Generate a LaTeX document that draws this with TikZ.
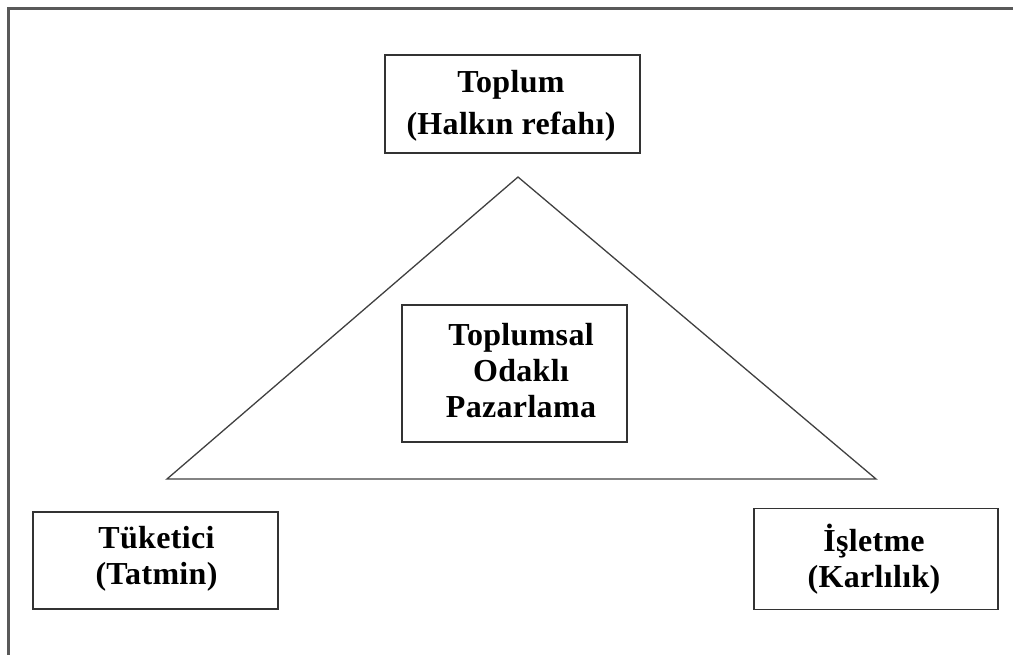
\documentclass[tikz,border=0pt]{standalone}
\usepackage{fontspec}
\setmainfont{Liberation Serif}[LetterSpace=1]
\begin{document}
\begin{tikzpicture}[x=1pt,y=-1pt,
  box/.style={draw=black!80,line width=1.6pt,inner sep=0pt,align=center,
    font=\fontsize{32}{36}\selectfont\bfseries},
  txt/.style={inner sep=0pt,align=center,font=\fontsize{32}{36}\selectfont\bfseries},
  frame/.style={draw=black!65,line width=2.6pt},
  tri/.style={draw=black!75,line width=1.3pt,line join=miter}]
\useasboundingbox (0,0) rectangle (1013,655);
% outer frame
\coordinate (fbl) at (8.5,655);
\coordinate (ftl) at (8.5,8.5);
\coordinate (ftr) at (1013,8.5);
\draw[frame] (fbl) -- (ftl) -- (ftr);
% boxes
\node[box,minimum width=255pt,minimum height=98pt] (top) at (512.5,104) {};
\node[txt,font=\fontsize{32}{42}\selectfont\bfseries] (toptext) at (511,106) {Toplum\\(Halkın refahı)};
\node[box,minimum width=225pt,minimum height=137pt] (mid) at (514.5,373.5) {};
\node[txt] (midtext) at (521,371) {Toplumsal\\Odaklı\\Pazarlama};
\node[box,minimum width=245pt,minimum height=97pt] (left) at (155.5,560.5) {};
\node[txt] (lefttext) at (156.5,559) {Tüketici\\(Tatmin)};
\node[box,minimum width=244pt,minimum height=101pt] (right) at (876,559) {};
\node[txt] (righttext) at (874,559) {İşletme\\(Karlılık)};
% triangle
\coordinate (apex) at (518,177);
\coordinate (bl) at (167,479);
\coordinate (br) at (876,479);
\draw[tri] (apex) -- (bl) -- (br) -- cycle;
\end{tikzpicture}
\end{document}
